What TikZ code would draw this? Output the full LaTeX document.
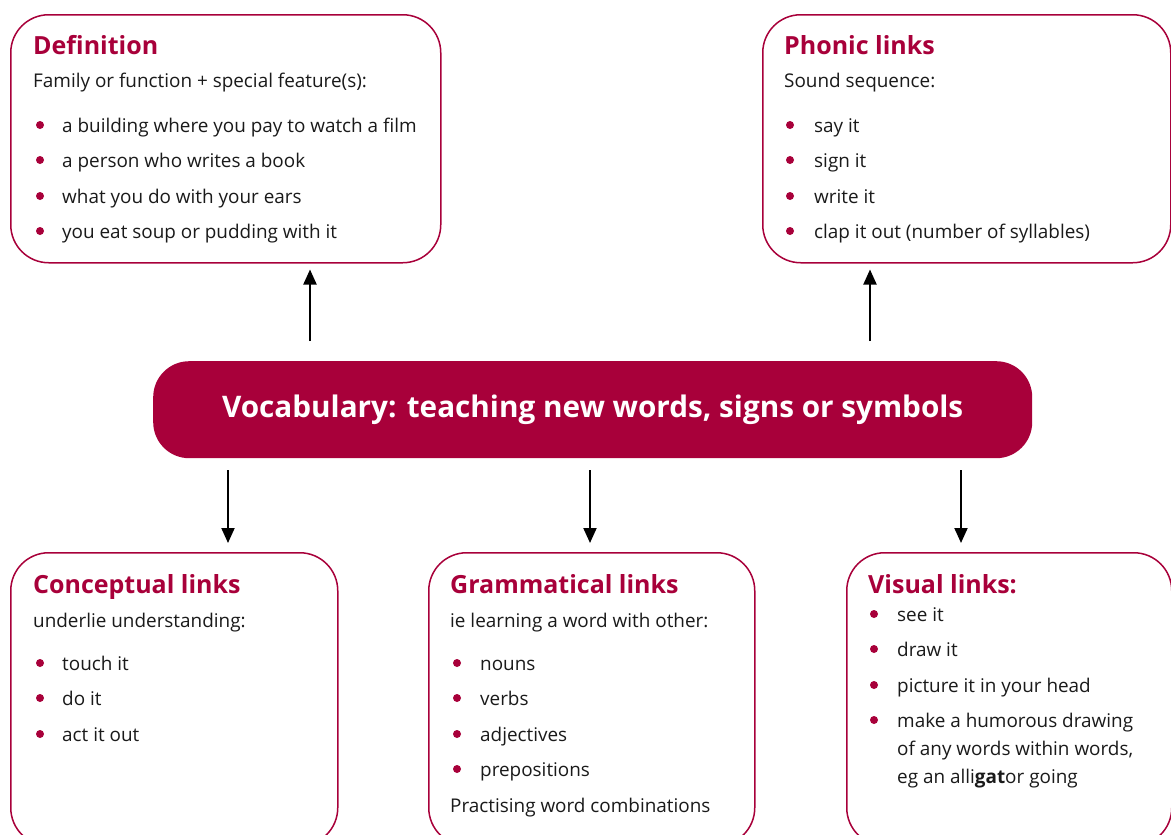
\documentclass[tikz,border=0pt]{standalone}
\usepackage{fontspec}
\setmainfont{Open Sans}
\usetikzlibrary{arrows.meta}
\definecolor{crim}{RGB}{168,0,58}
\definecolor{ink}{RGB}{26,26,26}
\begin{document}
\begin{tikzpicture}[x=1pt,y=-1pt,
  box/.style={draw=crim, line width=1.5pt, rounded corners=38pt, fill=white, anchor=north west, inner sep=0pt},
  head/.style={anchor=base west, inner sep=0pt, text=crim, font=\fontsize{25}{30}\selectfont\bfseries},
  body/.style={anchor=base west, inner sep=0pt, text=ink, font=\fontsize{18.9}{23}\selectfont},
  dot/.style={circle, fill=crim, inner sep=0pt, minimum size=8pt},
  arr/.style={line width=2pt, -{Triangle[length=15pt,width=13pt]}}]
\useasboundingbox (0,0) rectangle (1171,835);
\clip (0,0) rectangle (1171,835);

% boxes
\node[box, minimum width=430pt, minimum height=248pt] (def) at (10,14) {};
\node[box, minimum width=408pt, minimum height=248pt] (pho) at (762,14) {};
\node[box, minimum width=327pt, minimum height=293pt] (con) at (10,552) {};
\node[box, minimum width=326pt, minimum height=293pt] (gra) at (428,552) {};
\node[box, minimum width=325pt, minimum height=293pt] (vis) at (846,552) {};
\node[draw=none, fill=crim, rounded corners=36pt, anchor=north west, inner sep=0pt,
      minimum width=879pt, minimum height=97pt] (ban) at (153,361) {};
\node[text=white, font=\fontsize{29.7}{34}\selectfont\bfseries] (bant) at (ban.center) {Vocabulary: teaching new words, signs or symbols};

% Definition
\node[head] (defh) at (33,54) {Definition};
\node[body] (def0) at (33,87) {Family or function + special feature(s):};
\foreach \y/\t [count=\i] in {132/a building where you pay to watch a film,167/a person who writes a book,203/what you do with your ears,238/you eat soup or pudding with it}{
  \node[dot] (defd\i) at (40,\y-7) {};
  \node[body] (deft\i) at (62,\y) {\t};
}

% Phonic
\node[head] (phoh) at (784,54) {Phonic links};
\node[body] (pho0) at (784,87) {Sound sequence:};
\foreach \y/\t [count=\i] in {132/say it,167/sign it,203/write it,238/clap it out (number of syllables)}{
  \node[dot] (phod\i) at (790,\y-7) {};
  \node[body] (phot\i) at (814,\y) {\t};
}

% Conceptual
\node[head] (conh) at (33,593) {Conceptual links};
\node[body] (con0) at (33,627) {underlie understanding:};
\foreach \y/\t [count=\i] in {670/touch it,705/do it,741/act it out}{
  \node[dot] (cond\i) at (40,\y-7) {};
  \node[body] (cont\i) at (62,\y) {\t};
}

% Grammatical
\node[head] (grah) at (450,593) {Grammatical links};
\node[body] (gra0) at (450,627) {ie learning a word with other:};
\foreach \y/\t [count=\i] in {670/nouns,705/verbs,741/adjectives,776/prepositions}{
  \node[dot] (grad\i) at (457,\y-7) {};
  \node[body] (grat\i) at (480,\y) {\t};
}
\node[body] (gra5) at (450,812) {Practising word combinations};

% Visual
\node[head] (vish) at (868,593) {Visual links:};
\foreach \y/\t [count=\i] in {621/see it,656/draw it,692/picture it in your head,727/make a humorous drawing}{
  \node[dot] (visd\i) at (874,\y-7) {};
  \node[body] (vist\i) at (897,\y) {\t};
}
\node[body] (vis5) at (897,755) {of any words within words,};
\node[body] (vis6) at (897,783) {eg an alli\textbf{gat}or going};

% arrows
\coordinate (x1) at (310,0);
\coordinate (x2) at (870,0);
\coordinate (x3) at (228,0);
\coordinate (x4) at (590,0);
\coordinate (x5) at (961,0);
\draw[arr, shorten <=20pt, shorten >=6pt] (ban.north -| x1) -- (def.south -| x1);
\draw[arr, shorten <=20pt, shorten >=6pt] (ban.north -| x2) -- (pho.south -| x2);
\draw[arr, shorten <=12pt, shorten >=9pt] (ban.south -| x3) -- (con.north -| x3);
\draw[arr, shorten <=12pt, shorten >=9pt] (ban.south -| x4) -- (gra.north -| x4);
\draw[arr, shorten <=12pt, shorten >=9pt] (ban.south -| x5) -- (vis.north -| x5);
\end{tikzpicture}
\end{document}
